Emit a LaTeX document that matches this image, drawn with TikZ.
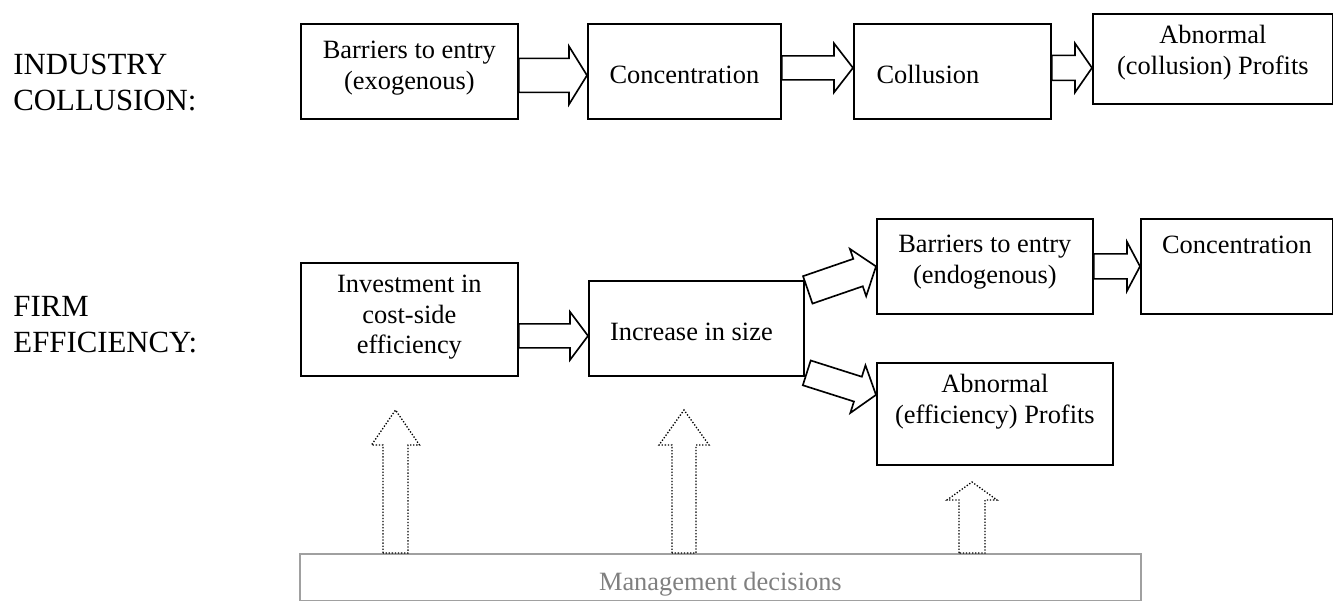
\documentclass[tikz,border=0pt]{standalone}
\usepackage{fontspec}
\setmainfont{Liberation Serif}
\usetikzlibrary{calc}
\definecolor{mgray}{RGB}{160,160,160}
\definecolor{tgray}{RGB}{128,128,128}
\newlength\pxu \setlength\pxu{0.4545pt}
% box content: width, height, first baseline from top (px), text
\newcommand\bx[4]{\parbox[c][#2\pxu][t]{#1\pxu}{\centering\rule{0pt}{#3\pxu}#4\par}}
% block arrow: style, start, tip, shaft half-width, head half-width, head length (px)
\newcommand\blk[6]{%
  \coordinate (tmpH) at ($(#3)!#6*0.4545pt!(#2)$);
  \draw[#1] ($(#2)!#4*0.4545pt!90:(#3)$) -- ($(tmpH)!#4*0.4545pt!90:(#3)$)
    -- ($(tmpH)!#5*0.4545pt!90:(#3)$) -- (#3)
    -- ($(tmpH)!#5*0.4545pt!-90:(#3)$) -- ($(tmpH)!#4*0.4545pt!-90:(#3)$)
    -- ($(#2)!#4*0.4545pt!-90:(#3)$) -- cycle;}
\begin{document}
\begin{tikzpicture}[x=0.4545pt,y=-0.4545pt,
  box/.style={draw, line width=0.8pt, inner sep=0pt, anchor=north west,
    font=\fontsize{12pt}{13.8pt}\selectfont},
  blockarr/.style={draw, line width=0.75pt, line join=miter},
  dotarr/.style={draw, line width=0.6pt, dash pattern=on 0.6pt off 0.8pt},
  lab/.style={anchor=base west, inner sep=0pt, font=\fontsize{14pt}{16.1pt}\selectfont}]
\useasboundingbox (0,0) rectangle (1333,601);

% row labels
\node[lab] (lind) at (13,75) {\parbox[t]{200pt}{INDUSTRY\\COLLUSION:}};
\node[lab] (lfirm) at (13,317) {\parbox[t]{200pt}{FIRM\\EFFICIENCY:}};

% top row
\node[box] (b1) at (300,23) {\bx{217}{95}{35}{Barriers to entry\\(exogenous)}};
\node[box] (b2) at (587,23) {\bx{193}{95}{60}{Concentration}};
\node[box] (b3) at (853,23) {\bx{197}{95}{60}{Collusion\hspace*{49\pxu}}};
\node[box] (b4) at (1092,13) {\bx{240}{90}{30}{Abnormal\\(collusion) Profits}};

% bottom row
\node[box] (inv) at (300,262) {\bx{217}{113}{30}{Investment in\\cost-side\\efficiency}};
\node[box] (inc) at (588,280) {\bx{215}{95}{60}{Increase in size\hspace*{10\pxu}}};
\node[box] (bar2) at (876,218) {\bx{216}{95}{34}{Barriers to entry\\(endogenous)}};
\node[box] (con2) at (1140,218) {\bx{192}{95}{35}{Concentration}};
\node[box] (abn2) at (876,362) {\bx{236}{102}{30}{Abnormal\\(efficiency) Profits}};
\node[box, draw=mgray, text=tgray] (mgmt) at (299,553) {\bx{841}{47}{37}{Management decisions}};

% block arrows, top row
\coordinate (a1s) at ($(b1.east)+(0,4)$); \coordinate (a1t) at ($(b2.west)+(0,4)$);
\blk{blockarr}{a1s}{a1t}{17}{29}{18}
\coordinate (a2s) at ($(b2.east)+(0,-3.5)$); \coordinate (a2t) at ($(b3.west)+(0,-3.5)$);
\blk{blockarr}{a2s}{a2t}{12}{24.5}{19}
\coordinate (a3s) at ($(b3.east)+(0,-3.5)$); \coordinate (a3t) at ($(b4.west)+(0,9)$);
\blk{blockarr}{a3s}{a3t}{12.5}{24.5}{17}

% block arrows, bottom row
\coordinate (a4s) at ($(inv.east)+(0,16.5)$); \coordinate (a4t) at ($(inc.west)+(0,7.5)$);
\blk{blockarr}{a4s}{a4t}{12}{24}{18}
\coordinate (a5s) at (bar2.east); \coordinate (a5t) at (con2.west);
\blk{blockarr}{a5s}{a5t}{12.5}{24.5}{13}
\coordinate (a6s) at ($(inc.east)+(3,-38.5)$); \coordinate (a6t) at (bar2.west);
\blk{blockarr}{a6s}{a6t}{14.5}{25}{19}
\coordinate (a7s) at ($(inc.east)+(2,44.5)$); \coordinate (a7t) at ($(abn2.west)+(0,-19)$);
\blk{blockarr}{a7s}{a7t}{13}{25}{19}

% dotted up arrows from management decisions
\coordinate (u1t) at (395.5,410); \coordinate (u1s) at (u1t |- mgmt.north);
\blk{dotarr}{u1s}{u1t}{12.5}{24}{35}
\coordinate (u2t) at (684,410); \coordinate (u2s) at (u2t |- mgmt.north);
\blk{dotarr}{u2s}{u2t}{12}{25}{35}
\coordinate (u3t) at (972,482); \coordinate (u3s) at (u3t |- mgmt.north);
\blk{dotarr}{u3s}{u3t}{13}{25}{18}
\end{tikzpicture}
\end{document}
